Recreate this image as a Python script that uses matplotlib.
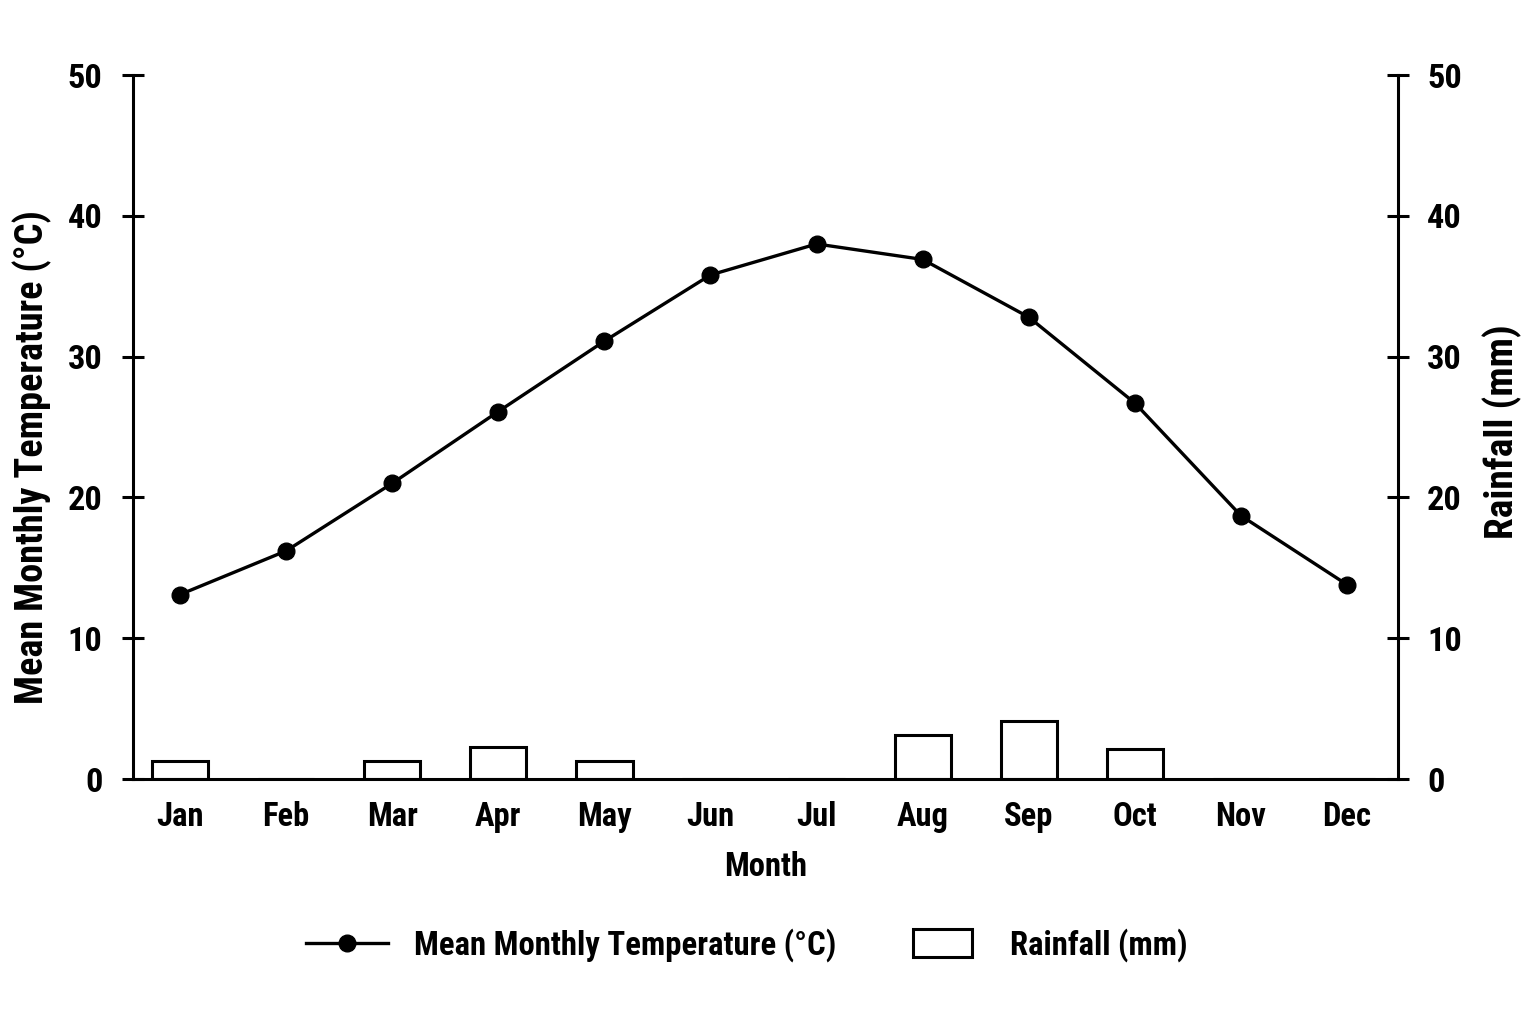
import matplotlib
matplotlib.use("Agg")
import matplotlib.pyplot as plt
from matplotlib import font_manager
from matplotlib.legend_handler import HandlerPatch
from matplotlib.patches import Rectangle
import numpy as np

months = ["Jan", "Feb", "Mar", "Apr", "May", "Jun", "Jul", "Aug", "Sep", "Oct", "Nov", "Dec"]
temperature = [13.1, 16.2, 21.0, 26.1, 31.1, 35.8, 38.0, 36.9, 32.8, 26.7, 18.7, 13.8]
rainfall = [1.3, 0, 1.3, 2.3, 1.3, 0, 0, 3.1, 4.1, 2.1, 0, 0]
yticks = [0, 10, 20, 30, 40, 50]

names = {f.name for f in font_manager.fontManager.ttflist}
fam = ["Roboto Condensed", "Archivo Narrow", "Liberation Sans", "DejaVu Sans"]
fam = [f for f in fam if f in names] or ["DejaVu Sans"]
plt.rcParams["font.family"] = fam
plt.rcParams["font.weight"] = "bold"

fig = plt.figure(figsize=(15.36, 10.24), dpi=100)
ax = fig.add_axes([133/1536, 1-779/1024, (1398-133)/1536, (779-75)/1024])
ax2 = ax.twinx()

x = np.arange(len(months))
bars = ax2.bar(x, rainfall, width=0.53, facecolor="white", edgecolor="black", linewidth=2.2,
               label="Rainfall (mm)", zorder=2)
line, = ax.plot(x, temperature, color="black", linewidth=2.4, marker="o", markersize=12,
                label="Mean Monthly Temperature (°C)", zorder=3)
ax.set_zorder(ax2.get_zorder() + 1)
ax.patch.set_visible(False)

for a in (ax, ax2):
    a.set_xlim(-0.443, 11.48)
    a.set_ylim(0, 50)
    a.set_yticks(yticks)
    a.spines["top"].set_visible(False)
    for s in a.spines.values():
        s.set_linewidth(2.2)
ax.spines["right"].set_visible(False)
ax2.spines["left"].set_visible(False)
ax2.spines["bottom"].set_visible(False)

ax.set_xticks(x)
ax.set_xticklabels(months)
ax.tick_params(axis="x", length=0, pad=16, labelsize=22)
ax.tick_params(axis="y", direction="inout", length=16, width=2.2, labelsize=26, pad=14)
ax2.tick_params(axis="y", direction="inout", length=16, width=2.2, labelsize=26, pad=13)

xl = ax.set_xlabel("Month", fontsize=22, fontweight="bold", labelpad=13)
yl = ax.set_ylabel("Mean Monthly Temperature (°C)", fontsize=24, fontweight="bold")
yr = ax2.set_ylabel("Rainfall (mm)", fontsize=24, fontweight="bold")
ax.yaxis.set_label_coords((52-133)/1265, (779-457)/704)
ax2.yaxis.set_label_coords((1483-133)/1265, (779-432)/704)


def small_box(legend, orig_handle, xdescent, ydescent, width, height, fontsize):
    w = width * 0.72
    h = fontsize * 0.88
    return Rectangle((-xdescent + (width - w) / 2, -ydescent + (height - h) / 2), w, h)


def make_legend(size):
    return fig.legend(handles=[line, bars[0]], labels=["Mean Monthly Temperature (°C)", "Rainfall (mm)"],
                      loc="center", bbox_to_anchor=(0.486, 1-945/1024), ncol=2, frameon=False,
                      fontsize=size, handlelength=2.5, columnspacing=2.0, handletextpad=0.8,
                      handler_map={type(bars[0]): HandlerPatch(patch_func=small_box)})


leg = make_legend(22)

# scale text sizes so rendered widths match the reference
fig.canvas.draw()
r = fig.canvas.get_renderer()


def width_of(t):
    return t.get_window_extent(r).width


def height_of(t):
    return t.get_window_extent(r).height


s = 35 / width_of(ax.get_yticklabels()[-1])
ax.tick_params(axis="y", labelsize=26 * s)
ax2.tick_params(axis="y", labelsize=26 * s)
s = 49 / width_of(ax.get_xticklabels()[-1])
ax.tick_params(axis="x", labelsize=22 * s)
xl.set_fontsize(22 * 83 / width_of(xl))
yl.set_fontsize(24 * 495 / height_of(yl))
yr.set_fontsize(24 * 215 / height_of(yr))
ls = 22 * 422 / width_of(leg.get_texts()[0])
leg.remove()
leg = make_legend(ls)

fig.savefig("out.png", dpi=100, facecolor="white")
